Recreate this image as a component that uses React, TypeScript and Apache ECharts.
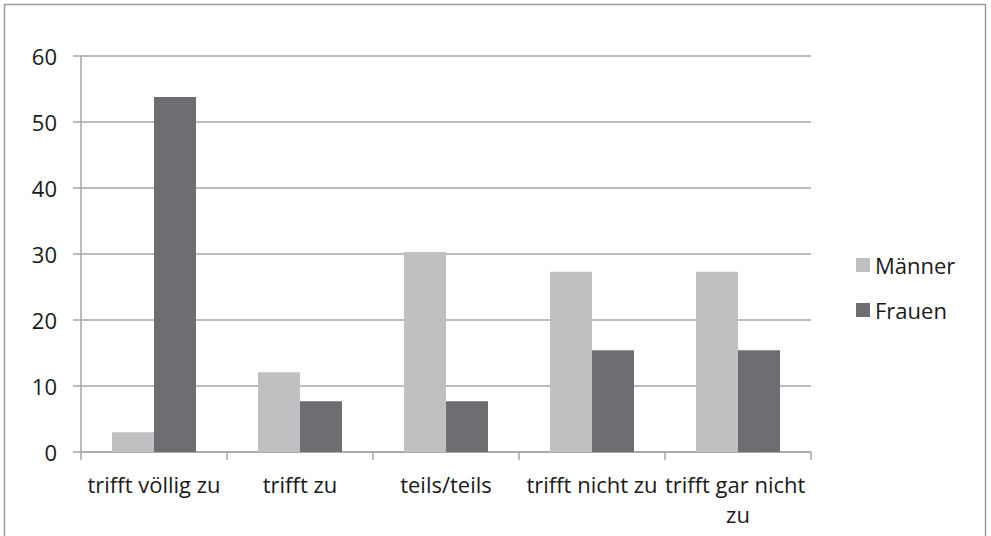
import React, { useEffect, useRef } from "react";
import * as echarts from "echarts";

const categories = ["trifft völlig zu", "trifft zu", "teils/teils", "trifft nicht zu", "trifft gar nicht zu"];
const maenner = [3.0, 12.1, 30.3, 27.3, 27.3];
const frauen = [53.8, 7.7, 7.7, 15.4, 15.4];
const seriesNames = ["Männer", "Frauen"];

const FONT = "'Open Sans', sans-serif";
const AXIS_GRAY = "#a6a6a8";
const TEXT = "#1a1a1a";

export default function App() {
  const ref = useRef<HTMLDivElement>(null);
  useEffect(() => {
    if (!ref.current) return;
    const chart = echarts.init(ref.current, null, { renderer: "svg" });
    chart.setOption({
      animation: false,
      backgroundColor: "#ffffff",
      textStyle: { fontFamily: FONT },
      graphic: [
        {
          type: "rect",
          shape: { x: 4.5, y: 4.5, width: 981, height: 545 },
          style: { fill: "none", stroke: "#9d9d9f", lineWidth: 1.5 },
          silent: true,
        },
      ],
      grid: { left: 81, right: 180, top: 56, bottom: 84, containLabel: false },
      legend: {
        orient: "vertical",
        left: 851,
        top: 249,
        itemWidth: 14,
        itemHeight: 14,
        itemGap: 23,
        icon: "rect",
        textStyle: { fontFamily: FONT, fontSize: 22, lineHeight: 22, color: TEXT },
        data: seriesNames,
      },
      xAxis: {
        type: "category",
        data: categories,
        axisLine: { show: true, lineStyle: { color: AXIS_GRAY, width: 1.5 } },
        axisTick: { show: true, length: 8, alignWithLabel: false, lineStyle: { color: AXIS_GRAY, width: 1.5 } },
        axisLabel: {
          fontFamily: FONT,
          fontSize: 22,
          color: TEXT,
          margin: 17,
          width: 150,
          overflow: "break",
          lineHeight: 30,
          interval: 0,
        },
      },
      yAxis: {
        type: "value",
        min: 0,
        max: 60,
        interval: 10,
        axisLine: { show: true, lineStyle: { color: AXIS_GRAY, width: 1.5 } },
        axisTick: { show: true, length: 8, lineStyle: { color: AXIS_GRAY, width: 1.5 } },
        splitLine: { show: true, lineStyle: { color: AXIS_GRAY, width: 1.5 } },
        axisLabel: { fontFamily: FONT, fontSize: 22, color: TEXT, margin: 24 },
      },
      series: [
        {
          name: seriesNames[0],
          type: "bar",
          data: maenner,
          barWidth: 42,
          barGap: "0%",
          itemStyle: { color: "#bfc0c2" },
        },
        {
          name: seriesNames[1],
          type: "bar",
          data: frauen,
          barWidth: 42,
          barGap: "0%",
          itemStyle: { color: "#6d6e71" },
        },
      ],
    });
    return () => chart.dispose();
  }, []);
  return <div ref={ref} style={{ position: "fixed", left: 0, top: 0, width: 991, height: 536 }} />;
}
